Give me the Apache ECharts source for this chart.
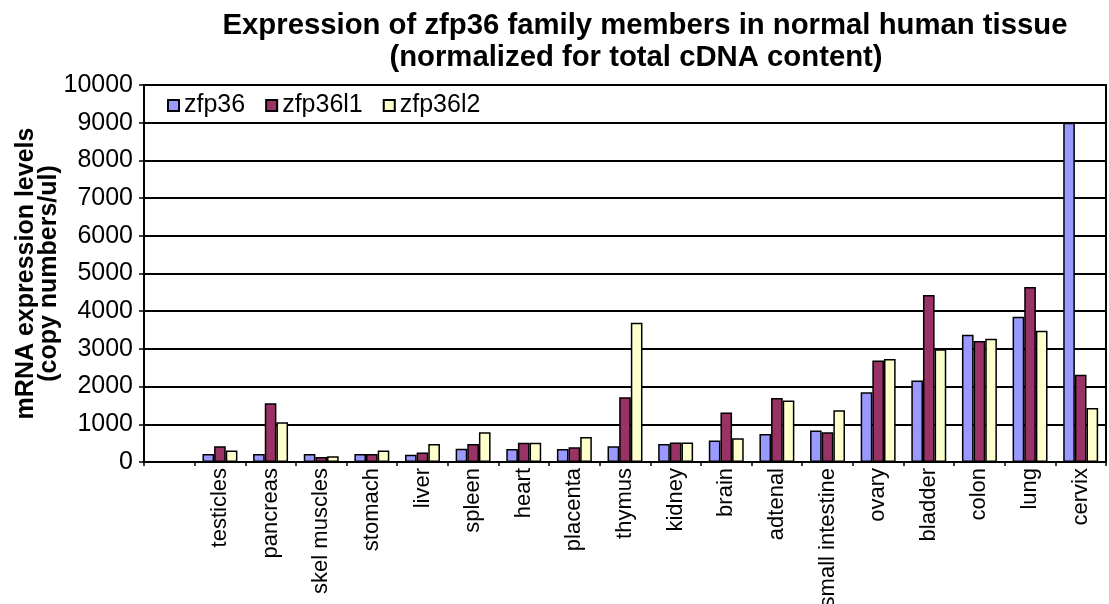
<!DOCTYPE html>
<html>
<head>
<meta charset="utf-8">
<title>zfp36 family expression</title>
<script src="https://cdn.jsdelivr.net/npm/echarts@6/dist/echarts.min.js"></script>
<style>
  html, body { margin: 0; padding: 0; background: #fff; }
  #chart { width: 1109px; height: 604px; }
</style>
</head>
<body>
<div id="chart"></div>
<script>
// Tissues (the first slot is left empty on purpose)
const tissues = ['', 'testicles', 'pancreas', 'skel muscles', 'stomach', 'liver', 'spleen',
  'heart', 'placenta', 'thymus', 'kidney', 'brain', 'adtenal', 'small intestine',
  'ovary', 'bladder', 'colon', 'lung', 'cervix'];

// Copy numbers per ul for each family member
const zfp36   = [null, 210, 210, 210, 210, 195, 350, 345, 345, 415, 475, 570, 745, 835, 1850, 2165, 3375, 3850, 9000];
const zfp36l1 = [null, 420, 1560, 130, 210, 255, 475, 510, 390, 1720, 520, 1315, 1695, 790, 2695, 4430, 3210, 4640, 2315];
const zfp36l2 = [null, 305, 1055, 150, 305, 475, 790, 510, 660, 3695, 520, 630, 1630, 1370, 2735, 2990, 3270, 3480, 1430];

const seriesNames = ['zfp36', 'zfp36l1', 'zfp36l2'];
const seriesColors = ['#9999ff', '#993366', '#ffffcc'];

const FONT = 'Arial, "Liberation Sans", Helvetica, sans-serif';

const chart = echarts.init(document.getElementById('chart'), null, { renderer: 'canvas' });

const makeBar = (name, data, color) => ({
  name: name,
  type: 'bar',
  data: data,
  barGap: '0%',
  barCategoryGap: '31%',
  itemStyle: { color: color, borderColor: '#000', borderWidth: 1.5 },
  emphasis: { disabled: true }
});

chart.setOption({
  animation: false,
  backgroundColor: '#fff',
  title: [
    {
      text: 'Expression of zfp36 family members in normal human tissue',
      left: 640, top: 6, textAlign: 'center',
      textStyle: { fontFamily: FONT, fontSize: 29.3, fontWeight: 'bold', color: '#000' }
    },
    {
      text: '(normalized for total cDNA content)',
      left: 631, top: 38, textAlign: 'center',
      textStyle: { fontFamily: FONT, fontSize: 29.3, fontWeight: 'bold', color: '#000' }
    }
  ],
  legend: {
    data: seriesNames,
    left: 162, top: 88,
    itemWidth: 11, itemHeight: 11, itemGap: 20,
    icon: 'rect',
    textStyle: { fontFamily: FONT, fontSize: 25, color: '#000' }
  },
  grid: {
    left: 144, right: 3, top: 85, bottom: 142,
    containLabel: false,
    outerBoundsMode: 'none',
    show: true, borderColor: '#000', borderWidth: 2, backgroundColor: '#fff'
  },
  xAxis: {
    type: 'category',
    data: tissues,
    axisLine: { lineStyle: { color: '#000', width: 2 } },
    axisTick: { show: true, interval: 0, alignWithLabel: false, length: 4, lineStyle: { color: '#000', width: 1.5 } },
    axisLabel: { interval: 0, rotate: 90, margin: 6, fontFamily: FONT, fontSize: 22, color: '#000' },
    splitLine: { show: false }
  },
  yAxis: {
    type: 'value',
    min: 0, max: 10000, interval: 1000,
    name: 'mRNA expression levels\n(copy numbers/ul)',
    nameLocation: 'middle',
    nameGap: 83,
    nameMoveOverlap: false,
    nameRotate: 90,
    nameTextStyle: { fontFamily: FONT, fontSize: 25, fontWeight: 'bold', color: '#000', lineHeight: 23, align: 'center' },
    axisLine: { show: true, lineStyle: { color: '#000', width: 2 } },
    axisTick: { show: true, length: 5, lineStyle: { color: '#000', width: 1.5 } },
    axisLabel: {
      margin: 11, fontFamily: FONT, fontSize: 25, color: '#000',
      formatter: (v) => String(v)
    },
    splitLine: { show: true, lineStyle: { color: '#000', width: 2 } }
  },
  series: [
    makeBar(seriesNames[0], zfp36, seriesColors[0]),
    makeBar(seriesNames[1], zfp36l1, seriesColors[1]),
    makeBar(seriesNames[2], zfp36l2, seriesColors[2])
  ]
});
</script>
</body>
</html>
